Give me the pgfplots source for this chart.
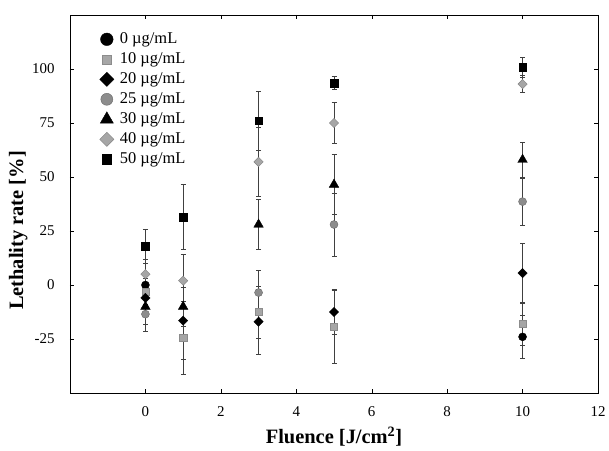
\documentclass[border=0pt]{standalone}
\usepackage{fontspec}
\setmainfont{Liberation Serif}
\usepackage{pgfplots}
\usepackage{pgfplotstable}
\pgfplotsset{compat=1.18}
\pgfplotstableread{
x y e
0 0 5
10 -24 10
}\sA
\pgfplotstableread{
x y e
0 -3 6
1 -24.5 17
3 -12.5 12
5 -19.3 17
10 -18 10
}\sB
\pgfplotstableread{
x y e
0 -6 7
1 -16.5 18
3 -17 15
5 -12.5 10.5
10 5.5 14
}\sC
\pgfplotstableread{
x y e
0 -13.5 8
3 -3.5 10.5
5 28 14.5
10 38.6 11
}\sD
\pgfplotstableread{
x y e
0 -10 8
1 -10 9
3 28 11.5
5 46.5 14
10 58 8
}\sE
\pgfplotstableread{
x y e
0 5 7
1 2 12
3 57 16
5 75 9.5
10 93 4
}\sF
\pgfplotstableread{
x y e
0 18 8
1 31.5 15
3 76 13.5
5 93.5 3
10 100.8 4.5
}\sG
\begin{document}
\begin{tikzpicture}
\path (-70bp,-57bp) rectangle (539bp,393bp);
\begin{axis}[at={(0,0)}, anchor=south west, scale only axis,
  width=528bp, height=378bp,
  xmin=-2, xmax=12, ymin=-50, ymax=125,
  xtick={0,2,...,12}, ytick={-25,0,25,50,75,100},
  tick align=inside, major tick length=4bp,
  tick style={black, thin},
  axis line style={black, line width=0.9pt},
  /pgf/number format/assume math mode=true,
  ticklabel style={font=\fontsize{15}{15}\selectfont},
  yticklabel style={xshift=-12bp},
  xticklabel style={yshift=-10bp},
  xlabel={\textbf{Fluence [J/cm\textsuperscript{2}]}},
  ylabel={\textbf{Lethality rate [\%]}},
  label style={font=\fontsize{20.5}{20.5}\selectfont},
  xlabel style={at={(axis description cs:0.5,0)}, anchor=base, yshift=-51bp},
  ylabel style={at={(axis description cs:0,0.43)}, anchor=south, xshift=0bp, yshift=39bp},
  legend style={at={(axis description cs:0.056,0.96)}, anchor=north west, draw=none, fill=none,
    inner sep=0bp, column sep=5bp,
    font=\fontsize{16.5}{16.5}\selectfont, row sep=2bp,
    nodes={inner sep=1bp, text height=12bp, text depth=4bp}},
  legend cell align=left,
  error bars/y dir=both, error bars/y explicit,
  error bars/error bar style={line width=0.6pt, black!75},
  error bars/error mark options={rotate=90, mark size=2.5bp, line width=0.6pt, black!75},
]
\addplot[forget plot, only marks, mark=*, mark size=4bp, mark options={fill=black, draw=black}] table[x=x, y=y, y error=e] {\sA};
\addplot[forget plot, only marks, mark=square*, mark size=3.6bp, mark options={fill=black!35, draw=black!45}] table[x=x, y=y, y error=e] {\sB};
\addplot[forget plot, only marks, mark=square*, mark size=3.3bp, mark options={rotate=45, fill=black, draw=black}] table[x=x, y=y, y error=e] {\sC};
\addplot[forget plot, only marks, mark=*, mark size=4bp, mark options={fill=black!45, draw=black!60}] table[x=x, y=y, y error=e] {\sD};
\addplot[forget plot, only marks, mark=triangle*, mark size=5.5bp, mark options={fill=black, draw=black}] table[x=x, y=y, y error=e] {\sE};
\addplot[forget plot, only marks, mark=square*, mark size=3.3bp, mark options={rotate=45, fill=black!35, draw=black!50}] table[x=x, y=y, y error=e] {\sF};
\addplot[forget plot, only marks, mark=square*, mark size=3.8bp, mark options={fill=black, draw=black}] table[x=x, y=y, y error=e] {\sG};
\addlegendimage{only marks, mark=*, mark size=6.3bp, mark options={fill=black, draw=black}}
\addlegendentry{0 µg/mL}
\addlegendimage{only marks, mark=square*, mark size=4.6bp, mark options={fill=black!35, draw=black!45}}
\addlegendentry{10 µg/mL}
\addlegendimage{only marks, mark=square*, mark size=5bp, mark options={rotate=45, fill=black, draw=black}}
\addlegendentry{20 µg/mL}
\addlegendimage{only marks, mark=*, mark size=6bp, mark options={fill=black!45, draw=black!60}}
\addlegendentry{25 µg/mL}
\addlegendimage{only marks, mark=triangle*, mark size=7.5bp, mark options={fill=black, draw=black}}
\addlegendentry{30 µg/mL}
\addlegendimage{only marks, mark=square*, mark size=5bp, mark options={rotate=45, fill=black!35, draw=black!50}}
\addlegendentry{40 µg/mL}
\addlegendimage{only marks, mark=square*, mark size=4.8bp, mark options={fill=black, draw=black}}
\addlegendentry{50 µg/mL}
\end{axis}
\end{tikzpicture}
\end{document}
